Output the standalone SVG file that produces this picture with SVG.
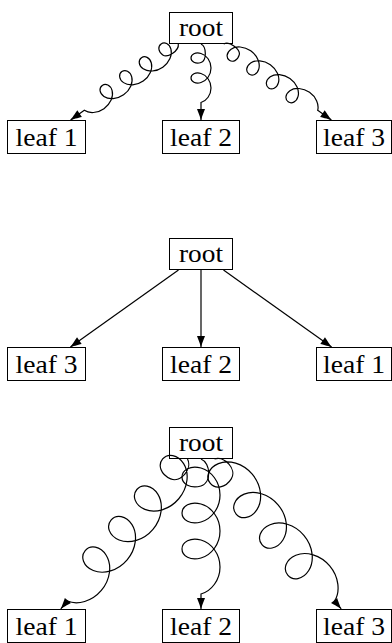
<svg xmlns="http://www.w3.org/2000/svg" width="392" height="643" viewBox="0 0 392 643">
<style>
.box{fill:none;stroke:#000;stroke-width:1}
.lbl{font-family:"Liberation Serif","Times New Roman",serif;font-size:26px;text-anchor:middle;fill:#000}
.edge{fill:none;stroke:#000;stroke-width:1.2;marker-end:url(#ah)}
</style>
<defs>
<marker id="ah" markerUnits="userSpaceOnUse" markerWidth="13" markerHeight="10" viewBox="0 0 13 10" refX="12" refY="5" orient="auto">
<path d="M12,5 C10,4.4 4.5,2.4 1,1 L1,9 C4.5,7.6 10,5.6 12,5Z" fill="#000"/>
</marker>
</defs>

<g id="connectors">
<!-- top tree: coils -->
<path class="edge" transform="translate(178.3,44) rotate(144.8)" d="M0,0 c3,-6 17,-5.55 19,0 c2,5.55 -0.9,10 -5,10 c-4.1,0 -7,-4.45 -5,-10 c2,-5.55 8.9,-10 17,-10 c8.1,0 15,4.45 17,10 c2,5.55 -0.9,10 -5,10 c-4.1,0 -7,-4.45 -5,-10 c2,-5.55 8.9,-10 17,-10 c8.1,0 15,4.45 17,10 c2,5.55 -0.9,10 -5,10 c-4.1,0 -7,-4.45 -5,-10 c2,-5.55 8.9,-10 17,-10 c8.1,0 15,4.45 17,10 c2,5.55 -0.9,10 -5,10 c-4.1,0 -7,-4.45 -5,-10 c2,-5.55 8.9,-10 17,-10 c8.1,0 15,4.45 17,10 H131.8"/>
<path class="edge" transform="translate(201,44) rotate(90)" d="M0,0 c3,-6 16.83,-5.55 18.5,0 c1.67,5.55 -0.9,10 -4.5,10 c-3.6,0 -6.17,-4.45 -4.5,-10 c1.67,-5.55 7.56,-10 14.5,-10 c6.94,0 12.83,4.45 14.5,10 c1.67,5.55 -0.9,10 -4.5,10 c-3.6,0 -6.17,-4.45 -4.5,-10 c1.67,-5.55 7.56,-10 14.5,-10 c6.94,0 12.83,4.45 14.5,10 H76"/>
<path class="edge" transform="translate(223.7,44) rotate(35.2)" d="M0,0 c3,-6 17,-5.55 19,0 c2,5.55 -0.9,10 -5,10 c-4.1,0 -7,-4.45 -5,-10 c2,-5.55 8.9,-10 17,-10 c8.1,0 15,4.45 17,10 c2,5.55 -0.9,10 -5,10 c-4.1,0 -7,-4.45 -5,-10 c2,-5.55 8.9,-10 17,-10 c8.1,0 15,4.45 17,10 c2,5.55 -0.9,10 -5,10 c-4.1,0 -7,-4.45 -5,-10 c2,-5.55 8.9,-10 17,-10 c8.1,0 15,4.45 17,10 c2,5.55 -0.9,10 -5,10 c-4.1,0 -7,-4.45 -5,-10 c2,-5.55 8.9,-10 17,-10 c8.1,0 15,4.45 17,10 H131.8"/>
<!-- middle tree: straight -->
<path class="edge" d="M178.5,270 L70.4,347"/>
<path class="edge" d="M201,270 L201,347"/>
<path class="edge" d="M223.5,270 L331.6,347"/>
<!-- bottom tree: big coils -->
<path class="edge" transform="translate(187.5,459) rotate(130.2)" d="M0,0 c4,-10 22.67,-10.55 26,0 c3.33,10.55 -2.23,19 -10,19 c-7.77,0 -13.33,-8.46 -10,-19 c3.33,-10.55 15.57,-19 30,-19 c14.43,0 26.67,8.46 30,19 c3.33,10.55 -2.23,19 -10,19 c-7.77,0 -13.33,-8.46 -10,-19 c3.33,-10.55 15.57,-19 30,-19 c14.43,0 26.67,8.46 30,19 c3.33,10.55 -2.23,19 -10,19 c-7.77,0 -13.33,-8.46 -10,-19 c3.33,-10.55 15.57,-19 30,-19 c14.43,0 26.67,8.46 30,19 c3.33,10.55 -2.23,19 -10,19 c-7.77,0 -13.33,-8.46 -10,-19 c3.33,-10.55 15.57,-19 30,-19 c14.43,0 26.67,8.46 30,19 H196.3"/>
<path class="edge" transform="translate(201,459) rotate(90)" d="M0,0 c4,-10 24,-10.55 27,0 c3,10.55 -2,19 -9,19 c-7,0 -12,-8.46 -9,-19 c3,-10.55 14,-19 27,-19 c13,0 24,8.46 27,19 c3,10.55 -2,19 -9,19 c-7,0 -12,-8.46 -9,-19 c3,-10.55 14,-19 27,-19 c13,0 24,8.46 27,19 c3,10.55 -2,19 -9,19 c-7,0 -12,-8.46 -9,-19 c3,-10.55 14,-19 27,-19 c13,0 24,8.46 27,19 H150"/>
<path class="edge" transform="translate(214.5,459) rotate(49.8)" d="M0,0 c4,-10 22.67,-10.55 26,0 c3.33,10.55 -2.23,19 -10,19 c-7.77,0 -13.33,-8.46 -10,-19 c3.33,-10.55 15.57,-19 30,-19 c14.43,0 26.67,8.46 30,19 c3.33,10.55 -2.23,19 -10,19 c-7.77,0 -13.33,-8.46 -10,-19 c3.33,-10.55 15.57,-19 30,-19 c14.43,0 26.67,8.46 30,19 c3.33,10.55 -2.23,19 -10,19 c-7.77,0 -13.33,-8.46 -10,-19 c3.33,-10.55 15.57,-19 30,-19 c14.43,0 26.67,8.46 30,19 c3.33,10.55 -2.23,19 -10,19 c-7.77,0 -13.33,-8.46 -10,-19 c3.33,-10.55 15.57,-19 30,-19 c14.43,0 26.67,8.46 30,19 H196.3"/>
</g>

<!-- top tree -->
<g id="t-root"><rect class="box" x="169.5" y="12.5" width="63" height="31"/><text class="lbl" x="201" y="36" textLength="44" lengthAdjust="spacingAndGlyphs">root</text></g>
<g id="t-leaf1"><rect class="box" x="7.5" y="120.5" width="78" height="33"/><text class="lbl" x="46.5" y="146" textLength="62" lengthAdjust="spacingAndGlyphs">leaf 1</text></g>
<g id="t-leaf2"><rect class="box" x="162.5" y="120.5" width="77" height="33"/><text class="lbl" x="201" y="146" textLength="62" lengthAdjust="spacingAndGlyphs">leaf 2</text></g>
<g id="t-leaf3"><rect class="box" x="316.5" y="120.5" width="75" height="33"/><text class="lbl" x="354" y="146" textLength="62" lengthAdjust="spacingAndGlyphs">leaf 3</text></g>

<!-- middle tree -->
<g id="m-root"><rect class="box" x="169.5" y="238.5" width="63" height="31"/><text class="lbl" x="201" y="262" textLength="44" lengthAdjust="spacingAndGlyphs">root</text></g>
<g id="m-leaf3"><rect class="box" x="7.5" y="347.5" width="78" height="33"/><text class="lbl" x="46.5" y="373" textLength="62" lengthAdjust="spacingAndGlyphs">leaf 3</text></g>
<g id="m-leaf2"><rect class="box" x="162.5" y="347.5" width="77" height="33"/><text class="lbl" x="201" y="373" textLength="62" lengthAdjust="spacingAndGlyphs">leaf 2</text></g>
<g id="m-leaf1"><rect class="box" x="316.5" y="347.5" width="75" height="33"/><text class="lbl" x="354" y="373" textLength="62" lengthAdjust="spacingAndGlyphs">leaf 1</text></g>

<!-- bottom tree -->
<g id="b-root"><rect class="box" x="169.5" y="427.5" width="63" height="31"/><text class="lbl" x="201" y="451" textLength="44" lengthAdjust="spacingAndGlyphs">root</text></g>
<g id="b-leaf1"><rect class="box" x="7.5" y="609.5" width="78" height="33"/><text class="lbl" x="46.5" y="635" textLength="62" lengthAdjust="spacingAndGlyphs">leaf 1</text></g>
<g id="b-leaf2"><rect class="box" x="162.5" y="609.5" width="77" height="33"/><text class="lbl" x="201" y="635" textLength="62" lengthAdjust="spacingAndGlyphs">leaf 2</text></g>
<g id="b-leaf3"><rect class="box" x="316.5" y="609.5" width="75" height="33"/><text class="lbl" x="354" y="635" textLength="62" lengthAdjust="spacingAndGlyphs">leaf 3</text></g>
</svg>
